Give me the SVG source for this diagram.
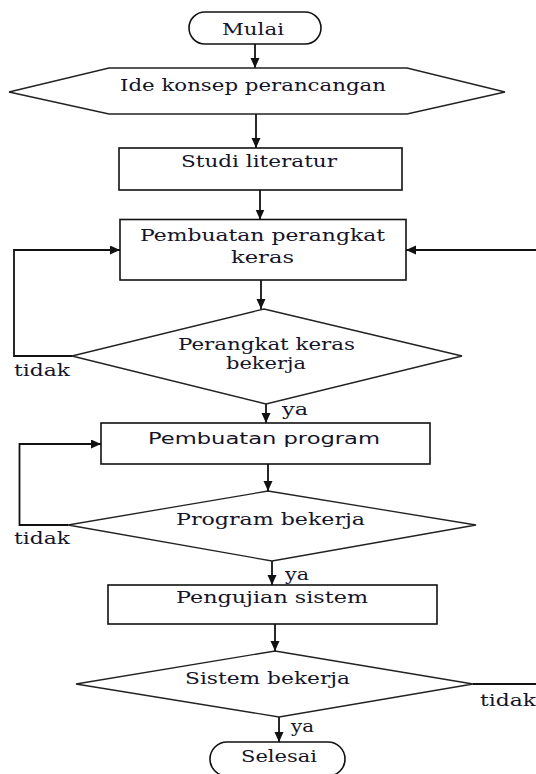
<svg xmlns="http://www.w3.org/2000/svg" width="536" height="774" viewBox="0 0 536 774">
<style>
.shape{fill:#fff;stroke:#111;stroke-width:1.6}
.dia{fill:#fff;stroke:#222;stroke-width:1.3}
.con{fill:none;stroke:#111;stroke-width:1.8}
.t{font-family:"DejaVu Serif","Liberation Serif",serif;font-size:16px;fill:#141428}
.s{font-family:"DejaVu Sans","Liberation Sans",sans-serif;font-size:16px;fill:#141428}
</style>
<defs>
<marker id="ah" markerUnits="userSpaceOnUse" markerWidth="11" markerHeight="10" refX="10" refY="4.5" orient="auto">
<path d="M0,0 L10,4.5 L0,9 z" fill="#111"/>
</marker>
</defs>
<rect width="536" height="774" fill="#fff"/>
<g id="connectors">
<path class="con" d="M255,44 V68" marker-end="url(#ah)"/>
<path class="con" d="M256,114 V148" marker-end="url(#ah)"/>
<path class="con" d="M260,190 V219.5" marker-end="url(#ah)"/>
<path class="con" d="M261,280 V309" marker-end="url(#ah)"/>
<path class="con" d="M72,356 H14 V250 H120" marker-end="url(#ah)"/>
<path class="con" d="M266,404 V423" marker-end="url(#ah)"/>
<path class="con" d="M268,464 V491" marker-end="url(#ah)"/>
<path class="con" d="M68,525 H19.5 V444 H101" marker-end="url(#ah)"/>
<path class="con" d="M272,561 V585" marker-end="url(#ah)"/>
<path class="con" d="M275,624 V651" marker-end="url(#ah)"/>
<path class="con" d="M279,717 V742" marker-end="url(#ah)"/>
<path class="con" d="M473,684 H560 V250 H406" stroke="#444" stroke-width="2.2" marker-end="url(#ah)"/>
</g>
<g id="mulai">
<rect class="shape" x="189" y="12" width="132" height="32" rx="16"/>
<text class="t" x="222" y="35" textLength="62" lengthAdjust="spacingAndGlyphs">Mulai</text>
</g>
<g id="ide">
<polygon class="dia" points="9,92 109,68 407,68 505,92 407,114 109,114"/>
<text class="t" x="120" y="91" textLength="266" lengthAdjust="spacingAndGlyphs">Ide konsep perancangan</text>
</g>
<g id="studi">
<rect class="shape" x="119" y="148" width="283" height="42"/>
<text class="t" x="181" y="167" textLength="156" lengthAdjust="spacingAndGlyphs">Studi literatur</text>
</g>
<g id="pembuatan-perangkat">
<rect class="shape" x="120" y="219.5" width="286" height="60.5"/>
<text class="t" x="140" y="241" textLength="245" lengthAdjust="spacingAndGlyphs">Pembuatan perangkat</text>
<text class="t" x="231" y="263" textLength="63" lengthAdjust="spacingAndGlyphs">keras</text>
</g>
<g id="cek-perangkat">
<polygon class="dia" points="264,309 462,356 266,404 72,356"/>
<text class="t" x="178" y="350" textLength="177" lengthAdjust="spacingAndGlyphs">Perangkat keras</text>
<text class="t" x="226" y="369" textLength="80" lengthAdjust="spacingAndGlyphs">bekerja</text>
</g>
<g id="pembuatan-program">
<rect class="shape" x="101" y="423" width="329" height="41"/>
<text class="s" x="148" y="444" textLength="232" lengthAdjust="spacingAndGlyphs">Pembuatan program</text>
</g>
<g id="cek-program">
<polygon class="dia" points="268,491 476,525 272,561 68,525"/>
<text class="t" x="176" y="525" textLength="189" lengthAdjust="spacingAndGlyphs">Program bekerja</text>
</g>
<g id="pengujian">
<rect class="shape" x="108" y="585" width="329" height="39"/>
<text class="t" x="176" y="603" textLength="192" lengthAdjust="spacingAndGlyphs">Pengujian sistem</text>
</g>
<g id="cek-sistem">
<polygon class="dia" points="275,651 473,684 279,717 76,684"/>
<text class="t" x="185" y="684" textLength="165" lengthAdjust="spacingAndGlyphs">Sistem bekerja</text>
</g>
<g id="selesai">
<rect class="shape" x="210" y="742" width="135" height="34" rx="17"/>
<text class="t" x="241" y="762" textLength="76" lengthAdjust="spacingAndGlyphs">Selesai</text>
</g>
<g id="labels">
<text class="t" x="14" y="376" textLength="56" lengthAdjust="spacingAndGlyphs">tidak</text>
<text class="t" x="282" y="415" textLength="26" lengthAdjust="spacingAndGlyphs">ya</text>
<text class="t" x="14" y="544" textLength="56" lengthAdjust="spacingAndGlyphs">tidak</text>
<text class="t" x="285" y="580" textLength="24" lengthAdjust="spacingAndGlyphs">ya</text>
<text class="t" x="480" y="706" textLength="56" lengthAdjust="spacingAndGlyphs">tidak</text>
<text class="t" x="291" y="732" textLength="23" lengthAdjust="spacingAndGlyphs">ya</text>
</g>
</svg>
